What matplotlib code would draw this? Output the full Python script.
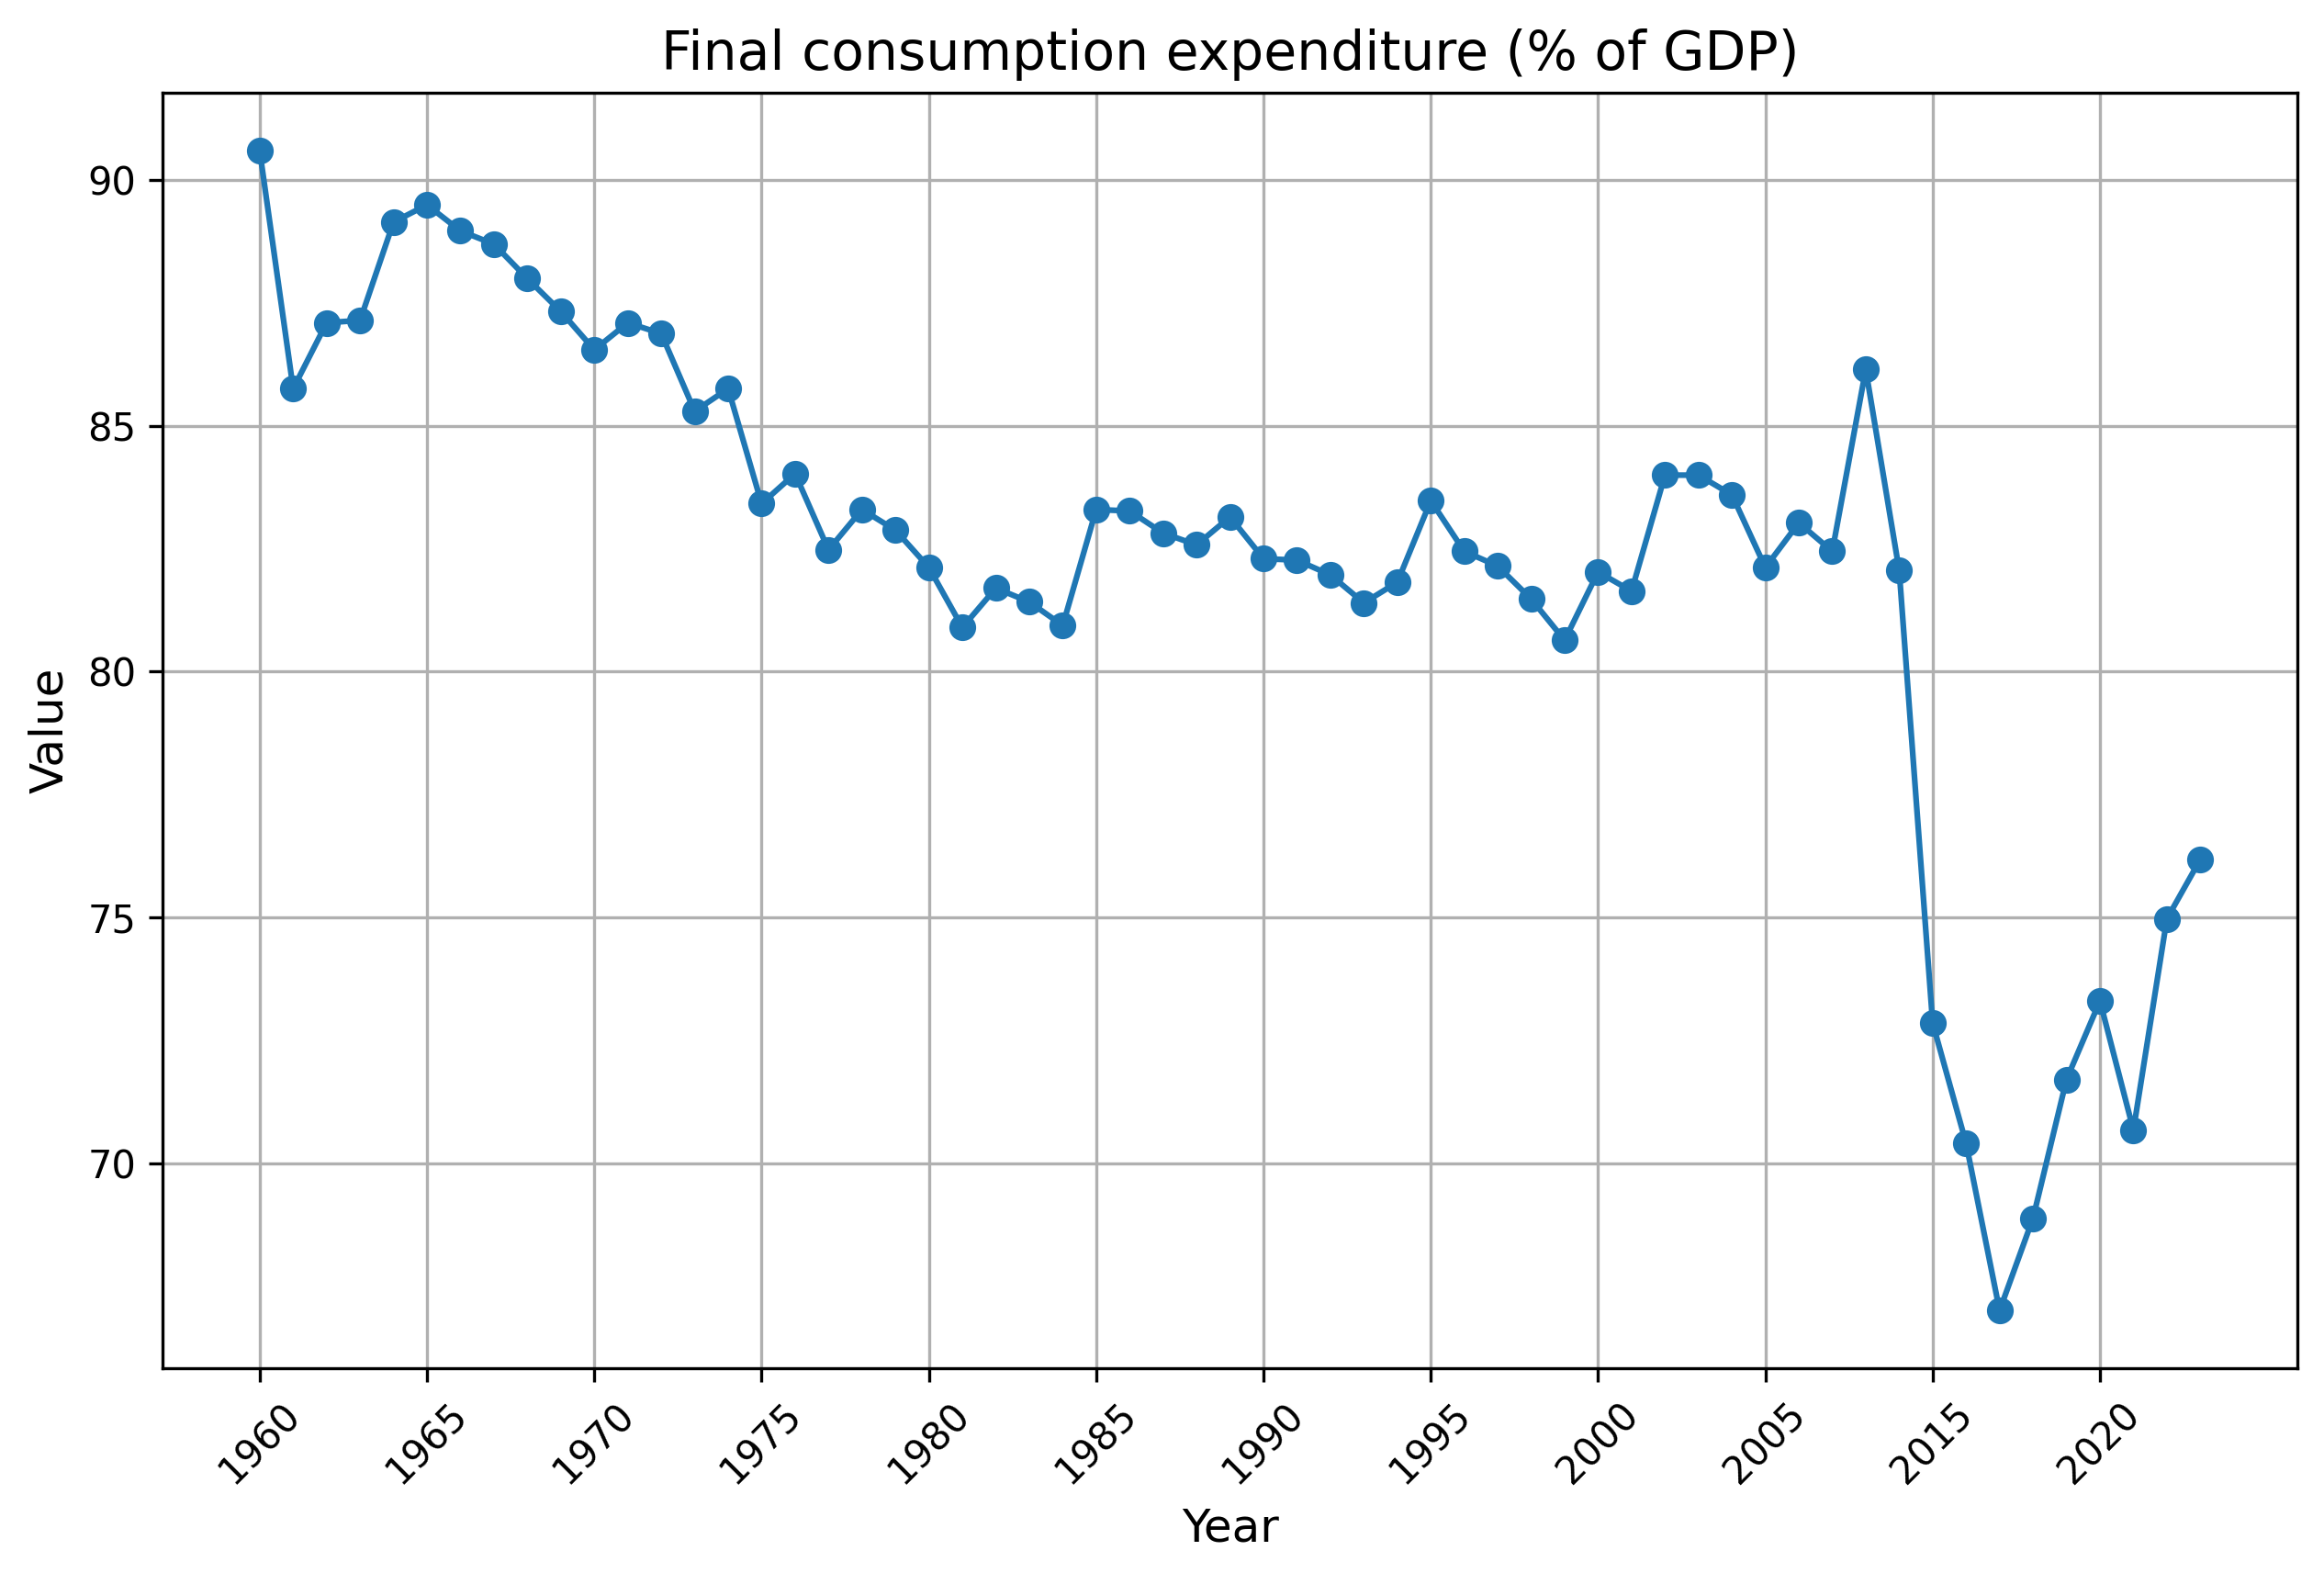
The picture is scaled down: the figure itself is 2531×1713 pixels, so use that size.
import numpy as np
import matplotlib.pyplot as plt

years = [str(y) for y in range(1960, 2006)] + ["2006", "2007", "2008", "2009"] + [str(y) for y in range(2015, 2024)]
values = [90.6, 85.76, 87.1, 87.15, 89.15, 89.5, 88.97, 88.7, 88.0, 87.33,
          86.55, 87.1, 86.88, 85.3, 85.76, 83.42, 84.03, 82.48, 83.3, 82.88,
          82.12, 80.9, 81.7, 81.42, 80.94, 83.3, 83.27, 82.82, 82.58, 83.15,
          82.3, 82.27, 81.97, 81.4, 81.82, 83.48, 82.45, 82.15, 81.48, 80.64,
          82.03, 81.64, 84.0, 84.0, 83.6, 82.12,
          83.03, 82.45, 86.15, 82.06,
          72.85, 70.4, 67.0, 68.88, 71.7, 73.3, 70.67, 74.97, 76.18]

fig, ax = plt.subplots(figsize=(8.437, 5.71), dpi=300)
ax.plot(years, values, marker='o', color='#1f77b4')
ax.set_xticks(range(0, len(years), 5))
ax.set_xticklabels(years[::5], rotation=45)
ax.set_title("Final consumption expenditure (% of GDP)", fontsize=14)
ax.set_xlabel("Year", fontsize=12)
ax.set_ylabel("Value", fontsize=12)
ax.grid(True)
fig.subplots_adjust(left=0.070, right=0.9885, top=0.941, bottom=0.130)
plt.savefig("out.png", dpi=300)
